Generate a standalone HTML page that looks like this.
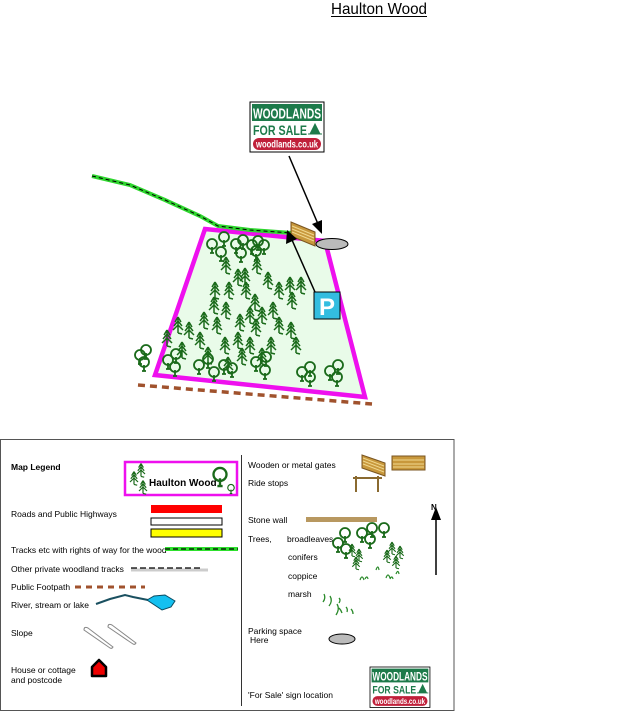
<!DOCTYPE html>
<html><head><meta charset="utf-8"><style>
html,body{margin:0;padding:0;background:#fff;}
svg{display:block;}
text{font-family:"Liberation Sans",sans-serif;}
</style></head><body>
<svg width="630" height="715" viewBox="0 0 630 715" xmlns="http://www.w3.org/2000/svg">
<defs>
<g id="con" fill="none" stroke="#1a6a1a" stroke-width="1.5">
<path d="M0,-8 V8 M0,-8 L-3,-3 M0,-8 L3,-3 M0,-4 L-4,1 M0,-4 L4,1 M0,0 L-5,5 M0,0 L5,5 M0,8 L4,9"/>
</g>
<g id="bl" fill="none" stroke="#1a6a1a" stroke-width="1.8">
<circle cx="0" cy="-2" r="5"/><path d="M0,1 V7 M-2,7 H2"/>
</g>
<g id="sign">
<rect x="0" y="0" width="74" height="50" fill="#fff" stroke="#000" stroke-width="1"/>
<rect x="2" y="2" width="70" height="17" fill="#1d7a4a"/>
<text x="37" y="16.5" font-size="15" font-weight="bold" fill="#fff" text-anchor="middle" textLength="68" lengthAdjust="spacingAndGlyphs">WOODLANDS</text>
<text x="3" y="33" font-size="14" font-weight="bold" fill="#1d7a4a" textLength="54" lengthAdjust="spacingAndGlyphs">FOR SALE</text>
<path d="M60,32 l5,-10 l5,10 z M58,32 h14" fill="#1d7a4a" stroke="#1d7a4a" stroke-width="1"/>
<rect x="3" y="36" width="68" height="12" rx="6" fill="#c0203a"/>
<text x="37" y="45.5" font-size="10" font-weight="bold" fill="#fff" text-anchor="middle" textLength="62" lengthAdjust="spacingAndGlyphs">woodlands.co.uk</text>
</g>
</defs>

<text x="331" y="14" font-size="16" textLength="96" lengthAdjust="spacingAndGlyphs">Haulton Wood</text>
<line x1="331" y1="16.5" x2="427" y2="16.5" stroke="#000" stroke-width="1"/>

<polygon points="205,229 325,241 365,397 155,375" fill="#e9fbe9" stroke="#ee10ee" stroke-width="4.5"/>
<polyline points="92,176 130,185 165,200 200,216 218,226 250,230 292,233" fill="none" stroke="#2ed62e" stroke-width="4"/>
<polyline points="92,176 130,185 165,200 200,216 218,226 250,230 292,233" fill="none" stroke="#000" stroke-width="1" stroke-dasharray="4,3"/>
<line x1="138" y1="385" x2="372" y2="404" stroke="#a0522d" stroke-width="3.5" stroke-dasharray="7,5"/>

<g>
<use href="#con" x="226" y="265"/><use href="#con" x="238" y="277"/><use href="#con" x="245" y="276"/><use href="#con" x="257" y="265"/>
<use href="#con" x="268" y="280"/><use href="#con" x="290" y="285"/><use href="#con" x="301" y="285"/><use href="#con" x="215" y="290"/>
<use href="#con" x="229" y="290"/><use href="#con" x="246" y="290"/><use href="#con" x="255" y="302"/><use href="#con" x="279" y="290"/>
<use href="#con" x="292" y="300"/><use href="#con" x="214" y="305"/><use href="#con" x="226" y="310"/><use href="#con" x="250" y="315"/>
<use href="#con" x="262" y="315"/><use href="#con" x="273" y="310"/><use href="#con" x="204" y="320"/><use href="#con" x="217" y="325"/>
<use href="#con" x="240" y="322"/><use href="#con" x="256" y="327"/><use href="#con" x="279" y="325"/><use href="#con" x="291" y="330"/>
<use href="#con" x="189" y="330"/><use href="#con" x="178" y="325"/><use href="#con" x="167" y="338"/><use href="#con" x="238" y="340"/>
<use href="#con" x="250" y="345"/><use href="#con" x="271" y="345"/><use href="#con" x="296" y="345"/><use href="#con" x="182" y="350"/>
<use href="#con" x="225" y="345"/><use href="#con" x="242" y="356"/><use href="#con" x="262" y="356"/><use href="#con" x="200" y="340"/>
<use href="#con" x="208" y="355"/><use href="#con" x="228" y="365"/>
<use href="#bl" x="212" y="246"/><use href="#bl" x="224" y="239"/><use href="#bl" x="221" y="254"/><use href="#bl" x="236" y="246"/>
<use href="#bl" x="243" y="242"/><use href="#bl" x="252" y="247"/><use href="#bl" x="258" y="243"/><use href="#bl" x="241" y="255"/>
<use href="#bl" x="256" y="253"/><use href="#bl" x="264" y="247"/><use href="#bl" x="140" y="357"/><use href="#bl" x="146" y="352"/>
<use href="#bl" x="144" y="364"/><use href="#bl" x="168" y="362"/><use href="#bl" x="176" y="356"/><use href="#bl" x="175" y="369"/>
<use href="#bl" x="199" y="367"/><use href="#bl" x="208" y="361"/><use href="#bl" x="224" y="367"/><use href="#bl" x="232" y="370"/>
<use href="#bl" x="256" y="364"/><use href="#bl" x="266" y="359"/><use href="#bl" x="265" y="372"/><use href="#bl" x="302" y="374"/>
<use href="#bl" x="310" y="369"/><use href="#bl" x="310" y="379"/><use href="#bl" x="330" y="373"/><use href="#bl" x="338" y="367"/>
<use href="#bl" x="337" y="379"/><use href="#bl" x="214" y="374"/>
</g>

<polygon points="291,222 315,232 315,246 291,236" fill="#c8983c" stroke="#7a5520" stroke-width="1"/>
<path d="M292,226 L314,235 M292,229 L314,238 M292,232 L314,241" stroke="#f0d890" stroke-width="1"/>
<ellipse cx="332" cy="244" rx="16" ry="5.5" fill="#bbb" stroke="#000" stroke-width="1"/>

<line x1="289" y1="156" x2="318" y2="224" stroke="#000" stroke-width="1.5"/>
<polygon points="322,234 312,224 322,220" fill="#000"/>
<line x1="315" y1="292" x2="292" y2="240" stroke="#000" stroke-width="1.5"/>
<polygon points="287,230 297,239 286,244" fill="#000"/>
<use href="#sign" x="250" y="102"/>
<rect x="314" y="292" width="26" height="27" fill="#33bde0" stroke="#000" stroke-width="1"/>
<text x="327" y="315" font-size="24" font-weight="bold" fill="#fff" text-anchor="middle">P</text>

<rect x="0.5" y="439.5" width="453.5" height="271" fill="none" stroke="#555" stroke-width="1"/>
<line x1="241.5" y1="455" x2="241.5" y2="706" stroke="#333" stroke-width="1"/>
<g font-size="8.5">
<text x="11" y="470" font-weight="bold">Map Legend</text>
<text x="11" y="517">Roads and Public Highways</text>
<text x="11" y="553">Tracks etc with rights of way for the wood</text>
<text x="11" y="572">Other private woodland tracks</text>
<text x="11" y="590">Public Footpath</text>
<text x="11" y="608">River, stream or lake</text>
<text x="11" y="636">Slope</text>
<text x="11" y="673">House or cottage</text>
<text x="11" y="683">and postcode</text>
<text x="248" y="468">Wooden or metal gates</text>
<text x="248" y="486">Ride stops</text>
<text x="248" y="523">Stone wall</text>
<text x="248" y="542">Trees,</text>
<text x="287" y="542">broadleaves</text>
<text x="288" y="560">conifers</text>
<text x="288" y="579">coppice</text>
<text x="288" y="597">marsh</text>
<text x="248" y="634">Parking space</text>
<text x="250" y="643">Here</text>
<text x="248" y="698">'For Sale'  sign location</text>
</g>
<rect x="125" y="462" width="112" height="33" fill="#fff" stroke="#ee10ee" stroke-width="2.5"/>
<text x="149" y="486" font-size="10" font-weight="bold">Haulton Wood</text>
<use href="#con" x="134" y="478" transform="translate(134 478) scale(0.8) translate(-134 -478)"/>
<use href="#con" x="141" y="470" transform="translate(141 470) scale(0.8) translate(-141 -470)"/>
<use href="#con" x="143" y="487" transform="translate(143 487) scale(0.8) translate(-143 -487)"/>
<use href="#bl" x="220" y="477" transform="translate(220 477) scale(1.3) translate(-220 -477)"/>
<use href="#bl" x="231" y="489" transform="translate(231 489) scale(0.65) translate(-231 -489)"/>

<rect x="151" y="505" width="71" height="8" fill="#f00"/>
<rect x="151" y="518" width="71" height="7" fill="#fff" stroke="#000" stroke-width="1"/>
<rect x="151" y="529" width="71" height="8" fill="#ff0" stroke="#000" stroke-width="1"/>
<line x1="165" y1="549" x2="238" y2="549" stroke="#2ee02e" stroke-width="4"/>
<line x1="165" y1="549" x2="238" y2="549" stroke="#000" stroke-width="1.2" stroke-dasharray="5,3"/>
<line x1="131" y1="570" x2="208" y2="570" stroke="#ccc" stroke-width="3"/>
<line x1="131" y1="568" x2="202" y2="568" stroke="#000" stroke-width="1.2" stroke-dasharray="6,3"/>
<line x1="75" y1="587" x2="145" y2="587" stroke="#a0522d" stroke-width="3" stroke-dasharray="6,5"/>
<path d="M96,604 L110,599 L125,595 L133,597 L148,600" fill="none" stroke="#1a5060" stroke-width="2"/>
<path d="M147,600 L154,596 L165,595 L175,601 L171,607 L162,610 Z" fill="#14c0f0" stroke="#0a4a60" stroke-width="1"/>
<path d="M84,630 Q84,626 88,628 L113,647 Q112,649 110,648 Z" fill="#fff" stroke="#888" stroke-width="1"/>
<path d="M108,627 Q108,623 112,625 L136,643 Q135,645 133,644 Z" fill="#fff" stroke="#888" stroke-width="1"/>
<path d="M92,667 L99,660 L106,667 L106,676 L92,676 Z" fill="#e00" stroke="#000" stroke-width="2.5" stroke-linejoin="round"/>

<polygon points="362,455 385,463 385,476 362,468" fill="#c8983c" stroke="#7a5520" stroke-width="1"/>
<path d="M363,458 L384,466 M363,461 L384,469 M363,464 L384,472" stroke="#f0d890" stroke-width="1"/>
<rect x="392" y="456" width="33" height="14" fill="#c8983c" stroke="#7a5520" stroke-width="1"/>
<path d="M393,460 H424 M393,464 H424 M393,467 H424" stroke="#f0d890" stroke-width="1"/>
<path d="M353,478 H382 M356,476 V492 M378,476 V492" stroke="#8a6a30" stroke-width="2"/>
<rect x="306" y="517" width="71" height="5" fill="#b89860"/>
<use href="#bl" x="345" y="535"/><use href="#bl" x="338" y="545"/><use href="#bl" x="346" y="551"/><use href="#bl" x="362" y="535"/>
<use href="#bl" x="372" y="530"/><use href="#bl" x="370" y="541"/><use href="#bl" x="384" y="530"/>
<use href="#con" x="352" y="550" transform="translate(352 550) scale(0.75) translate(-352 -550)"/>
<use href="#con" x="359" y="555" transform="translate(359 555) scale(0.75) translate(-359 -555)"/>
<use href="#con" x="356" y="563" transform="translate(356 563) scale(0.75) translate(-356 -563)"/>
<use href="#con" x="392" y="548" transform="translate(392 548) scale(0.75) translate(-392 -548)"/>
<use href="#con" x="387" y="556" transform="translate(387 556) scale(0.75) translate(-387 -556)"/>
<use href="#con" x="400" y="552" transform="translate(400 552) scale(0.75) translate(-400 -552)"/>
<use href="#con" x="396" y="562" transform="translate(396 562) scale(0.75) translate(-396 -562)"/>
<path d="M360,580 q2,-6 4,0 M365,579 q2,-4 3,0 M376,570 q2,-6 3,0 M386,578 q2,-6 4,0 M390,579 q2,-4 3,0 M396,574 q2,-5 3,0" fill="none" stroke="#2a8a2a" stroke-width="1.2"/>
<path d="M323,602 q3,-4 1,-8 M329,606 q4,-5 1,-10 M339,603 q2,-3 0,-5 M336,615 q4,-6 1,-11 M342,613 q-1,-3 -3,-5 M347,612 q1,-3 -1,-5 M353,614 q0,-3 -2,-5" fill="none" stroke="#2a8a2a" stroke-width="1.3"/>
<ellipse cx="342" cy="639" rx="13" ry="5" fill="#bbb" stroke="#000" stroke-width="1"/>
<use href="#sign" x="370" y="667" transform="translate(370 667) scale(0.81) translate(-370 -667)"/>
<line x1="436" y1="515" x2="436" y2="575" stroke="#000" stroke-width="1.5"/>
<polygon points="436,507 431,520 441,520" fill="#000"/>
<text x="431" y="510" font-size="8" font-weight="bold">N</text>
</svg>
</body></html>
